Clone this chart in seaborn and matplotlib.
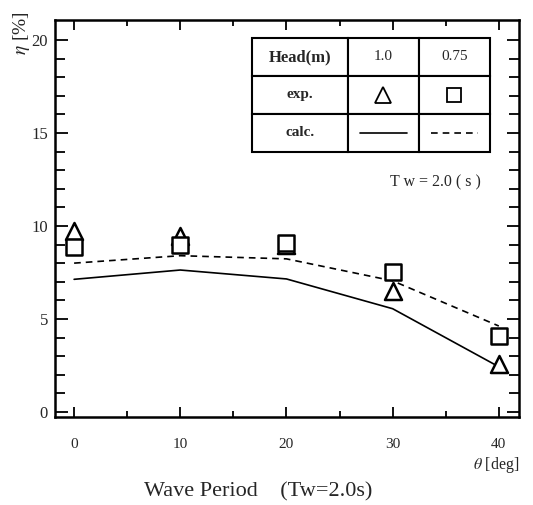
import numpy as np
import pandas as pd
import matplotlib
matplotlib.use("Agg")
import matplotlib.pyplot as plt
import seaborn as sns

# ------------------------------------------------------------
# data (eta [%] vs heading angle theta [deg])
# ------------------------------------------------------------
theta = [0, 10, 20, 30, 40]
exp_head_10 = [9.75, 9.45, 9.0, 6.5, 2.6]    # triangles
exp_head_075 = [8.85, 8.95, 9.1, 7.5, 4.1]   # squares
calc_head_10 = [7.13, 7.63, 7.15, 5.55, 2.43]  # solid
calc_head_075 = [8.0, 8.4, 8.23, 7.05, 4.62]   # dashed

x_ticks = [0, 10, 20, 30, 40]
y_ticks = [0, 5, 10, 15, 20]

table_text = [["Head(m)", "1.0", "0.75"],
              ["exp.", "", ""],
              ["calc.", "", ""]]

calc_df = pd.DataFrame({
    "theta": theta * 2,
    "eta": calc_head_10 + calc_head_075,
    "head": ["1.0"] * 5 + ["0.75"] * 5,
})

sns.set_theme(style="ticks")
plt.rcParams["font.family"] = ["Liberation Serif", "DejaVu Serif"]
plt.rcParams["mathtext.fontset"] = "stix"

fig = plt.figure(figsize=(5.33, 5.05), dpi=100)
ax = fig.add_axes([0.1032, 0.1743, 0.8705, 0.7861])

# calculated curves
sns.lineplot(data=calc_df, x="theta", y="eta", style="head",
             style_order=["1.0", "0.75"],
             dashes={"1.0": "", "0.75": (4, 3)},
             color="black", linewidth=1.2, legend=False, ax=ax)

# experimental points (squares are opaque and sit on top of the triangles)
sns.scatterplot(x=theta, y=exp_head_10, marker="^", s=150,
                facecolors="white", edgecolor="black", linewidth=1.8, ax=ax, zorder=3)
sns.scatterplot(x=theta, y=exp_head_075, marker="s", s=135,
                facecolors="white", edgecolor="black", linewidth=1.8, ax=ax, zorder=4)

ax.set_xlim(-1.8, 41.9)
ax.set_ylim(-0.27, 21.07)
ax.set_xticks(x_ticks)
ax.set_yticks(y_ticks)
ax.set_xticks(np.arange(5, 40, 10), minor=True)
ax.set_yticks(np.arange(0, 21, 1), minor=True)
ax.set_xticklabels([str(v) for v in x_ticks], fontsize=11)
ax.set_yticklabels([str(v) for v in y_ticks], fontsize=12)
ax.tick_params(which="both", direction="in", top=True, right=True, color="black", width=1.3)
ax.tick_params(axis="x", which="major", length=7, pad=15)
ax.tick_params(axis="x", which="minor", length=4)
ax.tick_params(axis="y", which="major", length=9, pad=5)
ax.tick_params(axis="y", which="minor", length=7)
ax.set_xlabel("")
ax.set_ylabel("")
for sp in ax.spines.values():
    sp.set_linewidth(1.8)
    sp.set_color("black")

# legend table in the upper right
tb_x0, tb_y0, tb_w, tb_h = 0.4246, 0.6675, 0.5129, 0.2872
col_w = [0.403, 0.2985, 0.2985]
tbl = ax.table(cellText=table_text, colWidths=col_w, cellLoc="center",
               bbox=[tb_x0, tb_y0, tb_w, tb_h])
tbl.auto_set_font_size(False)
for (r, c), cell in tbl.get_celld().items():
    cell.set_linewidth(1.5)
    cell.set_edgecolor("black")
    cell.get_text().set_fontsize(12 if (r, c) == (0, 0) else 11)
    if c == 0:
        cell.get_text().set_fontweight("bold")

# symbols inside the table cells
row_h = tb_h / 3
cx = [tb_x0 + tb_w * (col_w[0] + col_w[1] / 2),
      tb_x0 + tb_w * (col_w[0] + col_w[1] + col_w[2] / 2)]
half = tb_w * col_w[1] * 0.33
y_exp = tb_y0 + row_h * 1.5
y_calc = tb_y0 + row_h * 0.5
ax.plot([cx[0]], [y_exp], marker="^", ms=11, mfc="none", mec="black", mew=1.3,
        transform=ax.transAxes, clip_on=False, zorder=5)
ax.plot([cx[1]], [y_exp], marker="s", ms=10, mfc="none", mec="black", mew=1.3,
        transform=ax.transAxes, clip_on=False, zorder=5)
ax.plot([cx[0] - half, cx[0] + half], [y_calc, y_calc], color="black", lw=1.2,
        transform=ax.transAxes, zorder=5)
ax.plot([cx[1] - half, cx[1] + half], [y_calc, y_calc], color="black", lw=1.2,
        ls=(0, (4, 3)), transform=ax.transAxes, zorder=5)

ax.text(0.918, 0.59, "T w = 2.0 ( s )", transform=ax.transAxes,
        ha="right", va="center", fontsize=11.5)

# axis labels
fig.text(0.041, 0.935, r"$\eta$ [%]", rotation=90, ha="center", va="center", fontsize=14)
fig.text(0.975, 0.079, r"$\theta$ [deg]", ha="right", va="center", fontsize=11.5)
fig.text(0.484, 0.026, "Wave Period    (Tw=2.0s)", ha="center", va="center", fontsize=16)

fig.savefig("out.png", dpi=100, facecolor="white")
